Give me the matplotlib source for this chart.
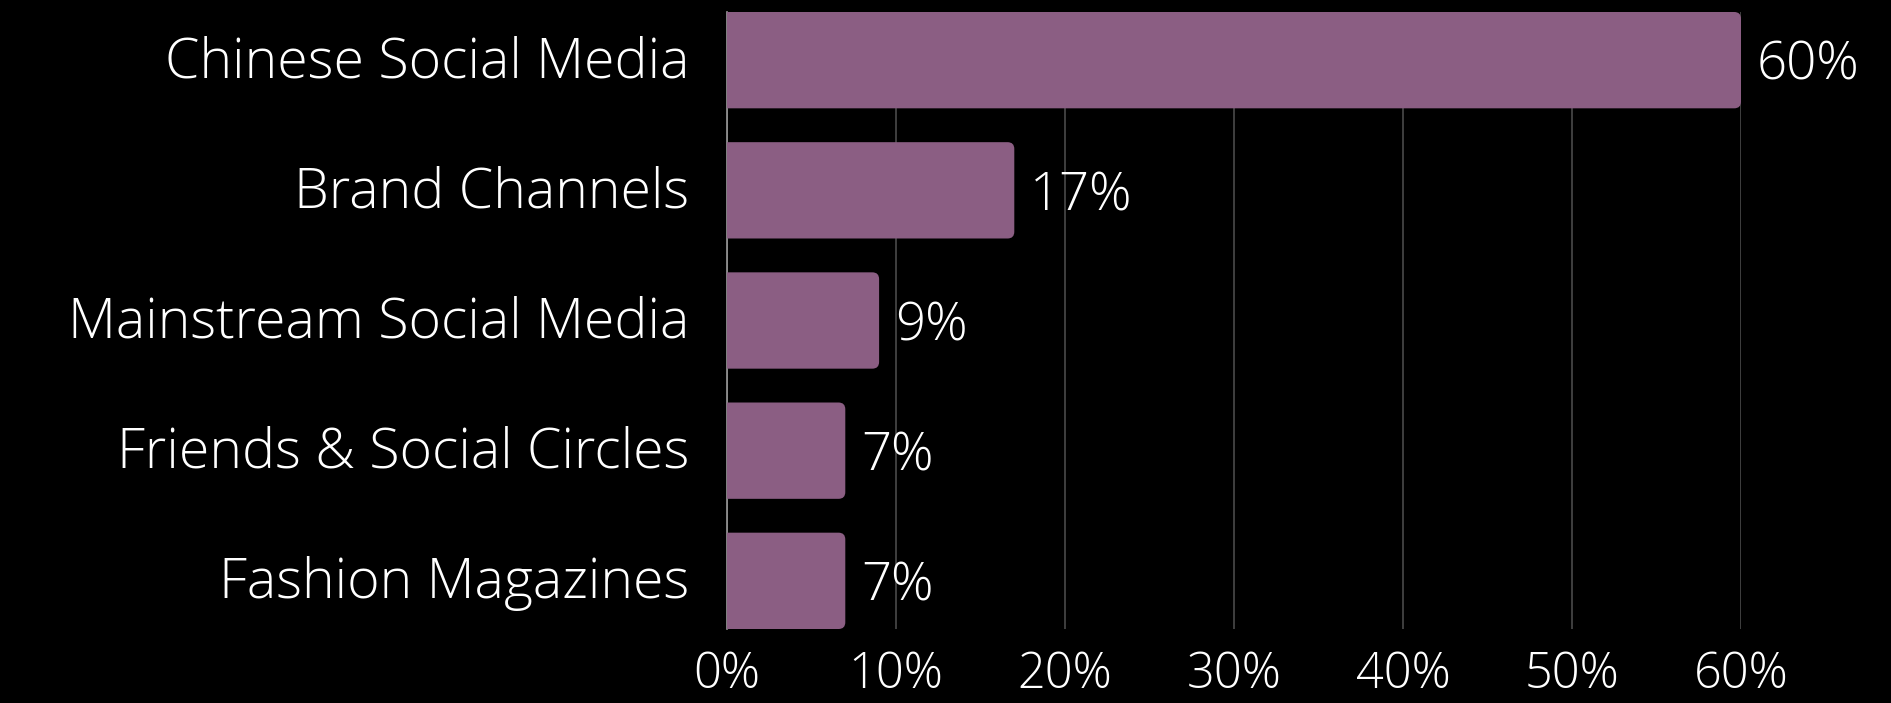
import matplotlib
matplotlib.use('Agg')
import matplotlib.pyplot as plt
from matplotlib.patches import FancyBboxPatch

categories = ['Chinese Social Media', 'Brand Channels', 'Mainstream Social Media',
              'Friends & Social Circles', 'Fashion Magazines']
values = [60, 17, 9, 7, 7]
xticks = [0, 10, 20, 30, 40, 50, 60]
xtick_labels = ['0%', '10%', '20%', '30%', '40%', '50%', '60%']

bar_color = '#8b5e83'
font = 'Open Sans'
weight = 'light'

fig = plt.figure(figsize=(18.91, 7.03), dpi=100, facecolor='black')
W, H = 1891, 703
ax = fig.add_axes([727 / W, 1 - 629 / H, (1741 - 727) / W, (629 - 12) / H])
ax.set_facecolor('black')

bh = 0.74
ypos = list(range(len(categories)))
bars = ax.barh(ypos, values, height=bh, color='none', zorder=3)
ax.set_xlim(0, 60)
ax.set_ylim(len(categories) - 1 + bh / 2, -bh / 2)

# rounded right ends
aspect = (1014 / 60) / (617 / (len(categories) - 1 + bh))
for b in bars:
    x, y, w, h = b.get_x(), b.get_y(), b.get_width(), b.get_height()
    p = FancyBboxPatch((x - 1, y), w + 1, h,
                       boxstyle='round,pad=0,rounding_size=0.4',
                       mutation_aspect=aspect, facecolor=bar_color,
                       edgecolor='none', zorder=3)
    ax.add_patch(p)

# value labels (baseline placed so digits sit centred on the bar)
for v, y in zip(values, ypos):
    ax.annotate(f'{v}%', xy=(v, y), xytext=(11.5, -14.2), textcoords='offset points',
                color='white', fontsize=38, family=font, weight=weight,
                va='baseline', ha='left', zorder=4, annotation_clip=False)

# category labels
for c, y in zip(categories, ypos):
    ax.annotate(c, xy=(0, y), xytext=(-27, -12.3), textcoords='offset points',
                color='white', fontsize=40, family=font, weight=weight,
                va='baseline', ha='right', annotation_clip=False)

# x tick labels
ax.set_xticks(xticks)
ax.set_xticklabels([])
ax.set_yticks(ypos)
ax.set_yticklabels([])
for t, lab in zip(xticks, xtick_labels):
    ax.annotate(lab, xy=(t, 0), xycoords=('data', 'axes fraction'),
                xytext=(0, -42.5), textcoords='offset points',
                color='white', fontsize=35, family=font, weight=weight,
                va='baseline', ha='center', annotation_clip=False)
ax.tick_params(length=0)

ax.grid(axis='x', color='#4a4a4a', linewidth=1.2, zorder=0)
ax.set_axisbelow(True)
for s in ['top', 'right', 'bottom']:
    ax.spines[s].set_visible(False)
ax.spines['left'].set_color('#9a9a9a')
ax.spines['left'].set_linewidth(1.2)

fig.savefig('out.png', dpi=100, facecolor='black')
